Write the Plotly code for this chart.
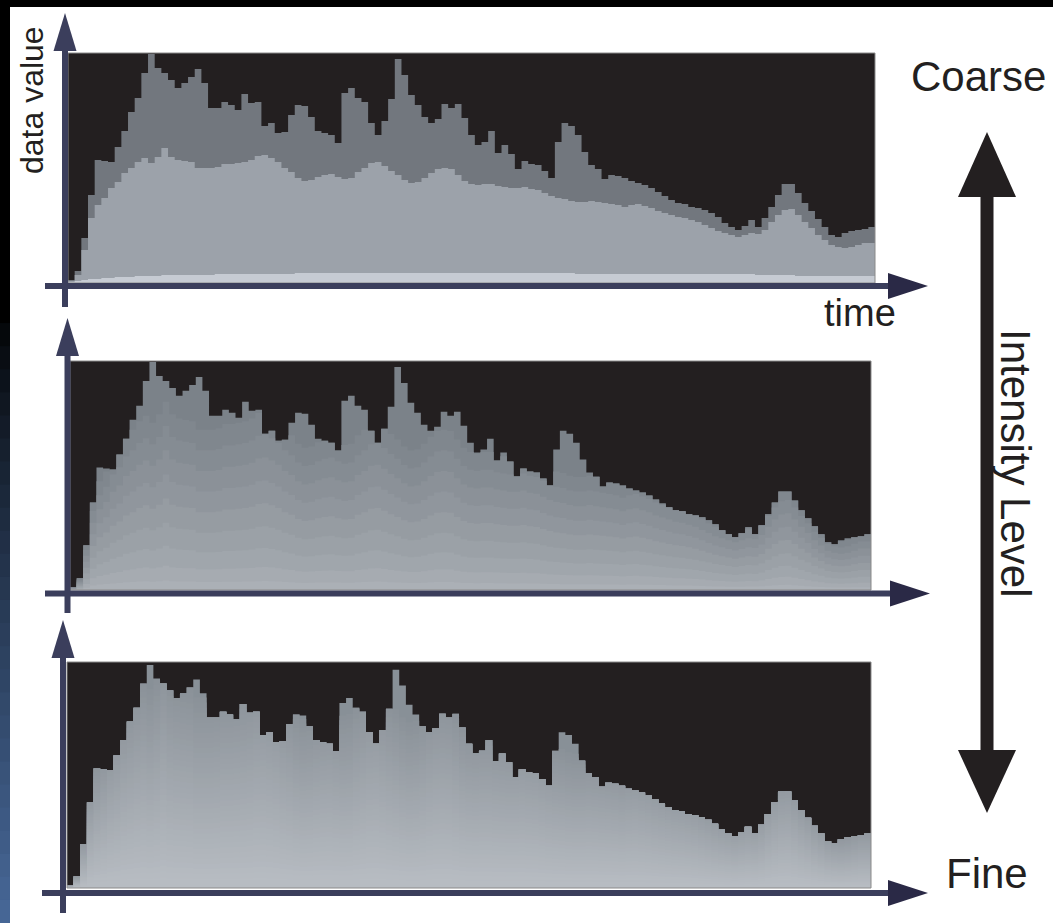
import plotly.graph_objects as go

W, H = 1053, 923

# ---------------- data ----------------
time_steps = list(range(121))

envelope = [3, 12, 45, 88, 123, 122, 121, 136, 152, 171,
            185, 210, 229, 215, 210, 203, 195, 200, 206, 214,
            200, 175, 175, 181, 178, 173, 189, 180, 181, 157,
            160, 150, 151, 168, 178, 177, 166, 152, 150, 148,
            140, 190, 195, 185, 181, 160, 148, 162, 184, 224,
            208, 188, 178, 166, 160, 164, 179, 175, 179, 165,
            148, 138, 141, 152, 130, 138, 129, 114, 122, 119,
            118, 112, 105, 141, 160, 157, 148, 131, 118, 114,
            104, 108, 107, 105, 102, 100, 98, 95, 91, 87,
            83, 80, 79, 76, 75, 73, 70, 66, 60, 56,
            53, 57, 63, 56, 65, 76, 88, 99, 99, 90,
            80, 72, 64, 56, 48, 46, 50, 52, 53, 54, 56]

mid_layer = [2, 8, 33, 65, 78, 85, 95, 101, 110, 115,
             121, 125, 120, 126, 135, 126, 123, 122, 121, 115,
             115, 115, 116, 119, 119, 120, 121, 123, 127, 128,
             125, 121, 115, 111, 105, 102, 103, 106, 108, 109,
             106, 104, 105, 111, 115, 120, 121, 117, 112, 108,
             103, 100, 101, 105, 110, 114, 115, 114, 108, 102,
             99, 98, 99, 99, 97, 96, 95, 95, 96, 94,
             93, 90, 87, 85, 84, 82, 81, 81, 82, 81,
             80, 79, 78, 76, 78, 79, 77, 75, 72, 70,
             68, 66, 65, 63, 61, 58, 55, 52, 50, 48,
             46, 48, 50, 49, 53, 61, 68, 73, 74, 68,
             61, 55, 48, 43, 38, 36, 35, 36, 38, 40, 40]

base_layer = [1, 2, 3, 4, 4, 5, 5, 6, 6, 6,
              7, 7, 7, 7, 8, 8, 8, 8, 8, 8,
              8, 8, 9, 9, 9, 9, 9, 9, 9, 9,
              9, 9, 9, 9, 10, 10, 10, 10, 10, 10,
              10, 10, 10, 10, 10, 10, 10, 10, 10, 10,
              10, 10, 10, 10, 10, 10, 10, 10, 10, 10,
              10, 10, 10, 10, 10, 10, 10, 10, 10, 10,
              10, 10, 10, 10, 10, 10, 9, 9, 9, 9,
              9, 9, 9, 9, 9, 9, 9, 9, 9, 9,
              9, 9, 9, 9, 9, 9, 9, 9, 9, 9,
              9, 9, 9, 8, 8, 8, 8, 8, 8, 7,
              7, 7, 7, 7, 7, 7, 7, 7, 7, 7, 7]

# relative heights of the intensity bands (fraction of the mid layer)
bands_medium = [1.4, 1.22, 1.04, 0.86, 0.68, 0.5, 0.33, 0.18, 0.07]
bands_fine = [1.7 - i * 0.045 for i in range(37)]

labels = {"y": "data value", "x": "time", "top": "Coarse",
          "bottom": "Fine", "side": "Intensity Level"}

# ---------------- helpers ----------------
def px(x):
    return x / W


def py(y):
    return 1 - y / H


def hexmix(c1, c2, t):
    a = [int(c1[i:i + 2], 16) for i in (1, 3, 5)]
    b = [int(c2[i:i + 2], 16) for i in (1, 3, 5)]
    return "#" + "".join(f"{round(a[j] + (b[j] - a[j]) * t):02x}" for j in range(3))


def step(vals):
    return time_steps + [len(time_steps)], list(vals) + [vals[-1]]


fig = go.Figure()

panels = [
    dict(x0=68, x1=875, y0=53, y1=283, ymax=230),
    dict(x0=70, x1=871, y0=361, y1=590, ymax=230),
    dict(x0=67, x1=871, y0=662, y1=888, ymax=232),
]


def add_area(vals, color, idx):
    xs, ys = step(vals)
    fig.add_trace(go.Scatter(
        x=xs, y=ys, mode="lines", line_shape="hv",
        line=dict(width=0, color=color), fill="tozeroy", fillcolor=color,
        hoverinfo="skip", showlegend=False,
        xaxis="x" if idx == 0 else f"x{idx + 1}",
        yaxis="y" if idx == 0 else f"y{idx + 1}"))


# panel 1 : coarse, three layers
add_area(envelope, "#72777e", 0)
add_area(mid_layer, "#9ca2aa", 0)
add_area(base_layer, "#c6cbd3", 0)

# panel 2 : medium
add_area(envelope, "#7b8289", 1)
n2 = len(bands_medium)
for i, f in enumerate(bands_medium):
    vals = [min(e, m * f) for e, m in zip(envelope, mid_layer)]
    add_area(vals, hexmix("#80878e", "#abb0b6", i / (n2 - 1)), 1)

# panel 3 : fine gradient
add_area(envelope, "#889097", 2)
n3 = len(bands_fine)
for i, f in enumerate(bands_fine):
    vals = [min(e, m * f) for e, m in zip(envelope, mid_layer)]
    add_area(vals, hexmix("#8b9299", "#b7bcc2", i / (n3 - 1)), 2)

layout_axes = {}
for i, p in enumerate(panels):
    xn = "xaxis" if i == 0 else f"xaxis{i + 1}"
    yn = "yaxis" if i == 0 else f"yaxis{i + 1}"
    layout_axes[xn] = dict(domain=[px(p["x0"]), px(p["x1"])], range=[0, 121],
                           visible=False, fixedrange=True,
                           anchor="y" if i == 0 else f"y{i + 1}")
    layout_axes[yn] = dict(domain=[py(p["y1"]), py(p["y0"])], range=[0, p["ymax"]],
                           visible=False, fixedrange=True,
                           anchor="x" if i == 0 else f"x{i + 1}")

shapes = []
# slide background remnants
shapes.append(dict(type="rect", xref="paper", yref="paper", x0=0, x1=1, y0=py(7), y1=1,
                   fillcolor="#000000", line=dict(width=0), layer="below"))
nstrip = 40
for j in range(nstrip):
    ya, yb = j * H / nstrip, (j + 1) * H / nstrip
    t = max(0.0, (ya - 300) / (H - 300))
    shapes.append(dict(type="rect", xref="paper", yref="paper", x0=0, x1=px(10),
                       y0=py(min(H, yb + 2)), y1=py(ya), fillcolor=hexmix("#000000", "#48699a", t ** 0.8),
                       line=dict(width=0), layer="below"))

# thin grey frame of each plot area
for p in panels:
    shapes.append(dict(type="rect", xref="paper", yref="paper",
                       x0=px(p["x0"]), x1=px(p["x1"]), y0=py(p["y1"]), y1=py(p["y0"]),
                       fillcolor="rgba(0,0,0,0)", line=dict(color="#8a8a8a", width=1),
                       layer="above"))

AX = "#3b3e5c"
AH = "#2a2946"
axes_geo = [
    dict(xa=65, ya=286, xl=45, xr=890, yb=307, yt=50, tip_y=13, tip_x=928),
    dict(xa=67.5, ya=593.5, xl=45, xr=890, yb=613, yt=354, tip_y=318, tip_x=930),
    dict(xa=63, ya=893, xl=42, xr=888, yb=913, yt=654, tip_y=620, tip_x=928),
]
for g in axes_geo:
    # x-axis line
    shapes.append(dict(type="line", xref="paper", yref="paper",
                       x0=px(g["xl"]), x1=px(g["xr"]), y0=py(g["ya"]), y1=py(g["ya"]),
                       line=dict(color=AX, width=6), layer="above"))
    # y-axis line
    shapes.append(dict(type="line", xref="paper", yref="paper",
                       x0=px(g["xa"]), x1=px(g["xa"]), y0=py(g["yb"]), y1=py(g["yt"]),
                       line=dict(color=AX, width=6), layer="above"))
    # x arrow head
    bx = g["tip_x"] - 40
    path = (f"M {px(g['tip_x'])},{py(g['ya'])} L {px(bx)},{py(g['ya'] - 13)} "
            f"L {px(bx)},{py(g['ya'] + 13)} Z")
    shapes.append(dict(type="path", xref="paper", yref="paper", path=path,
                       fillcolor=AH, line=dict(width=0), layer="above"))
    # y arrow head
    by = g["tip_y"] + 38
    path = (f"M {px(g['xa'])},{py(g['tip_y'])} L {px(g['xa'] - 11.5)},{py(by)} "
            f"L {px(g['xa'] + 11.5)},{py(by)} Z")
    shapes.append(dict(type="path", xref="paper", yref="paper", path=path,
                       fillcolor=AX, line=dict(width=0), layer="above"))

# big double arrow (intensity level)
BK = "#231f20"
shapes.append(dict(type="rect", xref="paper", yref="paper", x0=px(980.5), x1=px(993.5),
                   y0=py(752), y1=py(195), fillcolor=BK, line=dict(width=0)))
shapes.append(dict(type="path", xref="paper", yref="paper",
                   path=f"M {px(987)},{py(132)} L {px(958)},{py(197)} L {px(1016)},{py(197)} Z",
                   fillcolor=BK, line=dict(width=0)))
shapes.append(dict(type="path", xref="paper", yref="paper",
                   path=f"M {px(987)},{py(813)} L {px(958)},{py(750)} L {px(1016)},{py(750)} Z",
                   fillcolor=BK, line=dict(width=0)))

FONT = "Liberation Sans, Arial, Helvetica, sans-serif"
ann = [
    dict(text=labels["y"], x=px(32), y=py(100), textangle=-90, size=32,
         xanchor="center", yanchor="middle"),
    dict(text=labels["x"], x=px(860), y=py(313), textangle=0, size=38,
         xanchor="center", yanchor="middle"),
    dict(text=labels["top"], x=px(909), y=py(77), textangle=0, size=42,
         xanchor="left", yanchor="middle"),
    dict(text=labels["bottom"], x=px(944), y=py(873), textangle=0, size=42,
         xanchor="left", yanchor="middle"),
    dict(text=labels["side"], x=px(1015), y=py(463), textangle=90, size=42,
         xanchor="center", yanchor="middle"),
]
annotations = [dict(text=a["text"], x=a["x"], y=a["y"], xref="paper", yref="paper",
                    showarrow=False, textangle=a["textangle"], xanchor=a["xanchor"],
                    yanchor=a["yanchor"], font=dict(family=FONT, size=a["size"], color=BK))
               for a in ann]

fig.update_layout(
    width=W, height=H, margin=dict(l=0, r=0, t=0, b=0),
    paper_bgcolor="#ffffff", plot_bgcolor="#231f20",
    showlegend=False, shapes=shapes, annotations=annotations, **layout_axes)

fig.write_html("out.html", config={"displayModeBar": False, "staticPlot": True})

with open("out.html", "r", encoding="utf-8") as fh:
    html = fh.read()
html = html.replace("<head>", "<head><style>html,body{margin:0;padding:0;overflow:hidden;background:#fff}</style>", 1)
with open("out.html", "w", encoding="utf-8") as fh:
    fh.write(html)
